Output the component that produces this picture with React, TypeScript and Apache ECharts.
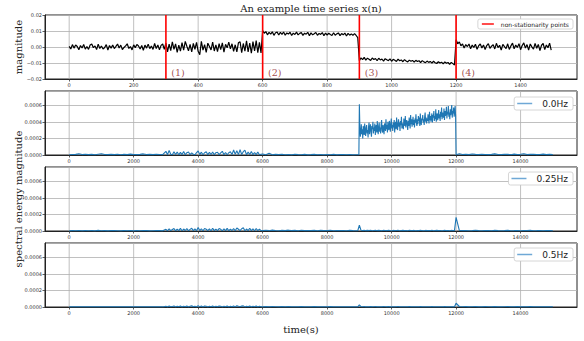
import React, { useEffect, useRef } from "react";
import * as echarts from "echarts";

// ---- top panel: x(n), values in units of 1e-3, one value every 5 samples ----
const XN_STEP = 5;
const xnPart1 = [
  0.4, -1.2, 1.5, -0.7, 1.3, 0.3, -1.7, 0.9, -0.6, 1.6,
  -1.3, 0.3, -1.5, 1.2, 1.9, -0.4, 0.7, -1.6, 1.8, -0.9,
  0.6, -1.3, -0.3, 1.5, -1.9, 0.9, -0.7, 1.3, -1.0, 0.4,
  1.9, -0.6, 1.2, -1.6, -0.3, 0.7, 2.0, -0.9, 0.3, -1.8,
  1.3, -0.4, 1.6, 0.6, -1.3, 0.9, -2.0, 1.2, -0.7, 1.8,
  -1.0, 0.6, -1.5, 2.2, -0.9, 1.3, -1.8, 1.0, 1.9, -1.5,
];
const xnPart2 = [
  2.5, -3.0, 1.8, -2.2, 3.2, -1.5, 2.0, -3.4, 1.2, -2.6,
  2.8, -1.9, 3.5, 0.5, -2.4, 1.6, -3.1, 2.2, -1.4, 2.9,
  -2.7, -4.8, 3.6, -2.0, 1.5, -3.3, 2.4, 0.3, -1.8, 3.0,
  -2.5, 1.3, -2.9, 2.1, -1.6, 2.6, -3.2, 1.7, -0.5, 3.1,
  -1.2, 2.0, -2.8, 1.4, -3.0, 2.7, 3.3, -3.6, 2.2, -2.6,
  3.8, -3.0, 2.5, -3.9, 3.4, -2.4, 4.0, -3.5, 2.9, -3.7,
];
const xnPart3 = [
  10.2, 8.6, 9.6, 7.6, 9.2, 8.0, 9.5, 7.3, 8.9, 9.3,
  7.5, 9.1, 7.9, 9.4, 7.4, 8.8, 8.1, 9.2, 7.2, 8.7,
  7.8, 9.3, 7.6, 8.5, 9.0, 7.3, 8.6, 8.0, 9.2, 7.1,
  8.8, 7.6, 8.3, 9.1, 7.3, 8.5, 7.9, 9.0, 7.0, 8.7,
  7.5, 8.6, 7.8, 7.2, 8.9, 7.4, 8.2, 8.8, 7.1, 8.4,
  7.6, 8.7, 6.9, 8.5, 7.4, 8.2, 7.3, 8.4, 7.2, 5.8,
];
const xnPart4 = [
  -8.5, -6.8, -7.9, -6.5, -8.2, -7.0, -7.6, -8.4, -6.9, -7.8,
  -7.2, -8.6, -7.0, -8.1, -7.5, -8.8, -7.3, -8.0, -8.5, -7.4,
  -8.9, -7.7, -8.3, -9.0, -7.6, -8.6, -8.1, -9.2, -7.9, -8.7,
  -9.3, -8.2, -8.9, -8.4, -9.5, -8.3, -9.1, -8.6, -9.7, -8.5,
  -9.3, -9.8, -8.8, -9.6, -9.0, -10.1, -8.9, -9.8, -10.3, -9.2,
  -10.0, -9.5, -10.6, -9.3, -10.2, -9.7, -10.8, -9.6, -10.4, -11.2,
];
const xnPart5 = [
  4.5, 2.0, 3.2, 0.8, 1.9, -0.7, 1.5, 0.3, 1.9, -1.1,
  1.2, -0.3, 1.7, -1.4, 0.8, 1.9, -0.6, 1.3, -1.6, 0.9,
  2.1, -0.8, 0.5, 1.5, -1.2, 2.3, -0.4, 1.1, -1.9, 1.6,
  0.3, -1.0, 2.0, -1.5, 0.7, 2.4, -1.1, 1.2, -0.3, 2.1,
  -1.7, 0.9, 2.6, -0.7, 1.5, -2.0, 1.9, 0.1, -1.3, 2.3,
  -0.8, 1.6, -2.3, 1.1, 2.2, -1.6, 1.3, -0.5, 2.4, -1.9,
];
const XN_UNIT = 1e-3;

const changePoints = [300, 600, 900, 1200];
const changeLabels = ["(1)", "(2)", "(3)", "(4)"];

const topXTicks = [0, 200, 400, 600, 800, 1000, 1200, 1400];
const specXTicks = [0, 2000, 4000, 6000, 8000, 10000, 12000, 14000];

// ---- spectral panels: values in units of 1e-5 ----
type Seg = { start: number; step: number; values: number[] };
const SPEC_UNIT = 1e-5;

const spec00: Seg[] = [
  { start: 0, step: 100, values: [
    0.3, 0.6, 0.8, 1.4, 0.5, 0.9, 0.4, 0.7, 0.3, 1.0,
    1.6, 0.6, 0.4, 0.8, 0.5, 0.9, 0.3, 0.7, 0.5, 1.1,
    0.6, 0.4, 0.8, 1.3, 0.5, 0.7, 0.4, 0.9, 0.6, 0.5] },
  { start: 3000, step: 50, values: [
    4.5, 0.4, 5.5, 1.0, 0.3, 4.0, 0.6, 3.5, 0.2, 3.2,
    0.5, 4.2, 0.3, 2.8, 3.6, 0.4, 2.6, 0.8, 0.3, 2.9,
    4.8, 0.5, 3.4, 0.3, 2.7, 3.9, 0.4, 3.1, 0.6, 3.6,
    0.3, 2.8, 3.3, 0.5, 2.5, 4.4, 0.4, 3.0, 0.3, 2.7,
    3.8, 0.5, 6.0, 0.8, 5.2, 0.4, 6.5, 0.6, 4.0, 5.8,
    0.3, 3.5, 0.7, 4.1, 0.4, 3.0, 0.5, 3.6, 0.3, 0.8] },
  { start: 6000, step: 100, values: [
    1.2, 0.3, 2.0, 0.2, 0.8, 0.4, 1.0, 0.3, 0.6, 0.2,
    0.9, 0.4, 0.3, 0.7, 0.2, 0.4, 0.8, 0.3, 0.5, 0.2,
    0.4, 0.3, 0.7, 0.2, 0.4, 0.6, 0.3, 0.5, 0.2, 0.3] },
  { start: 8985, step: 15, values: [
    0.3, 61,
    34, 22, 27, 37, 25, 31, 20, 35, 29, 24,
    38, 27, 23, 33, 36, 26, 30, 21, 34, 39,
    25, 32, 37, 28, 22, 35, 31, 40, 26, 33,
    29, 38, 24, 34, 36, 27, 41, 30, 25, 35,
    39, 28, 33, 26, 37, 42, 30, 27, 36, 31,
    25, 38, 34, 29, 43, 31, 36, 27, 40, 33,
    30, 41, 35, 28, 38, 44, 32, 36, 29, 39,
    33, 42, 27, 37, 40, 31, 45, 35, 30, 38,
    43, 34, 39, 29, 41, 36, 46, 32, 38, 35,
    31, 44, 38, 35, 47, 33, 40, 42, 36, 30,
    41, 35, 45, 39, 32, 48, 37, 43, 34, 40,
    46, 36, 42, 33, 44, 39, 49, 38, 35, 43,
    37, 47, 41, 45, 35, 50, 40, 36, 44, 42,
    48, 39, 43, 36, 46, 51, 40, 45, 38, 44,
    41, 49, 44, 38, 52, 42, 47, 40, 46, 50,
    39, 48, 45, 53, 41, 47, 43, 55, 40, 46,
    50, 42, 47, 54, 44, 49, 41, 52, 46, 57,
    43, 51, 48, 45, 56, 42, 53, 47, 50, 58,
    44, 52, 49, 59, 46, 51, 43, 55, 48, 54,
    60, 45, 53, 50, 57, 46, 52, 59, 47] },
  { start: 12000, step: 100, values: [
    0.4, 1.5, 0.6, 0.8, 0.5, 1.2, 0.7, 0.4, 0.9, 0.6,
    0.5, 0.8, 1.4, 0.6, 0.5, 0.9, 0.7, 0.4, 1.1, 0.6,
    0.8, 1.6, 0.5, 0.7, 0.9, 0.4, 0.6, 1.0, 0.5, 0.7,
    0.4] },
];

const spec025: Seg[] = [
  { start: 0, step: 100, values: [
    0.2, 0.4, 0.3, 0.6, 0.2, 0.5, 0.3, 0.4, 0.2, 0.7,
    0.3, 0.5, 0.2, 0.4, 0.6, 0.3, 0.2, 0.5, 0.3, 0.4,
    0.2, 0.6, 0.3, 0.4, 0.5, 0.2, 0.3, 0.6, 0.4, 0.2] },
  { start: 3000, step: 50, values: [
    2.0, 0.3, 2.6, 0.4, 1.8, 2.9, 0.3, 2.2, 0.5, 3.1,
    0.3, 2.4, 0.6, 2.8, 0.3, 2.0, 3.3, 0.4, 2.5, 0.3,
    4.2, 0.5, 2.7, 0.3, 3.0, 2.1, 0.4, 2.6, 0.3, 3.4,
    0.4, 2.3, 0.5, 2.9, 2.0, 0.3, 2.5, 0.4, 3.2, 0.3,
    2.2, 0.6, 2.8, 0.3, 3.6, 2.1, 0.4, 2.7, 3.8, 0.3,
    2.4, 0.5, 3.3, 0.4, 2.6, 0.3, 3.0, 0.5, 2.2, 0.4] },
  { start: 6000, step: 100, values: [
    0.5, 0.9, 0.4, 1.1, 0.6, 0.3, 0.8, 0.5, 1.0, 0.4,
    0.7, 0.3, 0.9, 0.5, 0.6, 0.4, 0.8, 0.3, 0.7, 0.5,
    0.4, 0.9, 0.3, 0.6, 0.4, 0.5, 0.3, 0.7, 0.4, 0.3] },
  { start: 8950, step: 50, values: [
    0.3, 7.0, 0.9, 0.5, 0.8, 0.4, 0.7, 0.5, 0.9, 0.3,
    0.6, 0.8, 0.4, 0.7, 0.5, 0.3, 0.8, 0.6, 0.4, 0.9,
    0.5, 0.3, 0.7, 0.4, 0.6, 0.8, 0.3, 0.5, 0.7, 0.4,
    0.6, 0.3, 0.8, 0.5, 0.4, 0.7, 0.3, 0.6, 0.5, 0.9,
    0.4, 0.3, 0.7, 0.5, 0.6, 0.4, 0.8, 0.3, 0.5, 0.7,
    0.4, 0.6, 0.3, 0.5, 0.8, 0.4, 0.6, 0.3, 0.7, 0.5,
    0.4] },
  { start: 12000, step: 100, values: [
    16.5, 0.8, 0.4, 0.6, 0.3, 0.5, 0.9, 0.4, 0.3, 0.6,
    0.5, 0.3, 0.7, 0.4, 0.3, 0.5, 0.8, 0.3, 0.4, 0.6,
    0.3, 0.5, 0.4, 0.7, 0.3, 0.4, 0.6, 0.3, 0.5, 0.4,
    0.2] },
];

const spec05: Seg[] = [
  { start: 0, step: 100, values: [
    0.1, 0.2, 0.1, 0.3, 0.1, 0.2, 0.1, 0.2, 0.1, 0.3,
    0.1, 0.2, 0.1, 0.2, 0.3, 0.1, 0.1, 0.2, 0.1, 0.2,
    0.1, 0.3, 0.1, 0.2, 0.2, 0.1, 0.1, 0.3, 0.2, 0.1] },
  { start: 3000, step: 50, values: [
    0.8, 0.1, 1.1, 0.2, 0.7, 1.2, 0.1, 0.9, 0.2, 1.3,
    0.1, 1.0, 0.2, 1.2, 0.1, 0.8, 1.4, 0.2, 1.0, 0.1,
    1.6, 0.2, 1.1, 0.1, 1.2, 0.8, 0.1, 1.0, 0.2, 1.3,
    0.1, 0.9, 0.2, 1.2, 0.8, 0.1, 1.0, 0.2, 1.3, 0.1,
    0.9, 0.2, 1.1, 0.1, 1.5, 0.8, 0.2, 1.1, 1.4, 0.1,
    0.9, 0.2, 1.3, 0.1, 1.0, 0.2, 1.2, 0.1, 0.9, 0.2] },
  { start: 6000, step: 100, values: [
    0.2, 0.4, 0.2, 0.5, 0.3, 0.1, 0.4, 0.2, 0.5, 0.2,
    0.3, 0.1, 0.4, 0.2, 0.3, 0.2, 0.4, 0.1, 0.3, 0.2,
    0.2, 0.4, 0.1, 0.3, 0.2, 0.2, 0.1, 0.3, 0.2, 0.1] },
  { start: 8950, step: 50, values: [
    0.2, 2.5, 0.5, 0.3, 0.4, 0.2, 0.3, 0.2, 0.4, 0.1,
    0.3, 0.4, 0.2, 0.3, 0.2, 0.1, 0.4, 0.3, 0.2, 0.4,
    0.2, 0.1, 0.3, 0.2, 0.3, 0.4, 0.1, 0.2, 0.3, 0.2,
    0.3, 0.1, 0.4, 0.2, 0.2, 0.3, 0.1, 0.3, 0.2, 0.4,
    0.2, 0.1, 0.3, 0.2, 0.3, 0.2, 0.4, 0.1, 0.2, 0.3,
    0.2, 0.3, 0.1, 0.2, 0.4, 0.2, 0.3, 0.1, 0.3, 0.2,
    0.2] },
  { start: 12000, step: 100, values: [
    4.5, 0.6, 0.3, 0.4, 0.2, 0.3, 0.5, 0.2, 0.2, 0.4,
    0.3, 0.2, 0.4, 0.2, 0.2, 0.3, 0.5, 0.2, 0.2, 0.4,
    0.2, 0.3, 0.2, 0.4, 0.2, 0.2, 0.3, 0.2, 0.3, 0.2,
    0.1] },
];

const specNames = ["0.0Hz", "0.25Hz", "0.5Hz"];
const specData = [spec00, spec025, spec05];

// ---- layout ----
const GRID_LEFT = 45;
const GRID_W = 532;
const GRID_H = 64;
const gridTops = [15, 91, 167, 243];
const TOP_X = [-75, 1575];
const TOP_Y = [-0.02, 0.02];
const SPEC_X = [-750, 15750];
const SPEC_Y = [0, 0.00077];

const SANS = "DejaVu Sans";
const SERIF = "DejaVu Serif";
const BLUE = "#1f77b4";

function segPoints(segs: Seg[], unit: number) {
  const out: number[][] = [];
  segs.forEach((s) => s.values.forEach((v, i) => out.push([s.start + i * s.step, v * unit])));
  return out;
}

export default function App() {
  const ref = useRef<HTMLDivElement>(null);
  useEffect(() => {
    if (!ref.current) return;
    const chart = echarts.init(ref.current, undefined, { renderer: "svg" });

    const xnAll = [...xnPart1, ...xnPart2, ...xnPart3, ...xnPart4, ...xnPart5];
    const xnData = xnAll.map((v, i) => [i * XN_STEP, v * XN_UNIT]);

    const grids = gridTops.map((t) => ({
      left: GRID_LEFT, top: t, width: GRID_W, height: GRID_H,
      show: true, borderColor: "#222", borderWidth: 1, backgroundColor: "transparent",
    }));

    const mkX = (g: number, ext: number[], ticks: number[]) => ({
      gridIndex: g, type: "value", min: ext[0], max: ext[1],
      axisLine: { show: true, onZero: false, lineStyle: { color: "#222", width: 1 } },
      splitLine: { show: false },
      axisTick: { show: true, customValues: ticks, length: 2.5, lineStyle: { color: "#333", width: 0.8 } },
      axisLabel: { customValues: ticks, fontSize: 5, color: "#333", margin: 3, fontFamily: SANS, formatter: (v: number) => String(v) },
    });
    const xAxes = [mkX(0, TOP_X, topXTicks), mkX(1, SPEC_X, specXTicks), mkX(2, SPEC_X, specXTicks), mkX(3, SPEC_X, specXTicks)];

    const yBase = {
      type: "value",
      axisLine: { show: true, onZero: false, lineStyle: { color: "#222", width: 1 } },
      axisTick: { show: true, length: 2.5, lineStyle: { color: "#333", width: 0.8 } },
      splitLine: { show: true, lineStyle: { color: "#b0b0b0", width: 0.8 } },
    };
    const yAxes: any[] = [
      {
        ...yBase, gridIndex: 0, min: TOP_Y[0], max: TOP_Y[1], interval: 0.01,
        axisLabel: {
          fontSize: 5, color: "#333", margin: 3, fontFamily: SANS,
          formatter: (v: number) => (v < -1e-9 ? "\u2212" : "") + Math.abs(v).toFixed(2),
        },
      },
    ];
    for (let g = 1; g <= 3; g++) {
      yAxes.push({
        ...yBase, gridIndex: g, min: SPEC_Y[0], max: SPEC_Y[1], interval: 0.0002,
        axisLabel: {
          fontSize: 5, color: "#333", margin: 3, fontFamily: SANS, showMaxLabel: false,
          formatter: (v: number) => v.toFixed(4),
        },
      });
    }

    const series: any[] = [];
    const vGrid = (g: number, ticks: number[], ext: number[]) =>
      ticks.forEach((t) =>
        series.push({
          type: "line", xAxisIndex: g, yAxisIndex: g, data: [[t, ext[0]], [t, ext[1]]],
          showSymbol: false, silent: true, z: 1,
          lineStyle: { color: "#b0b0b0", width: 0.8 },
        })
      );
    vGrid(0, topXTicks, TOP_Y);
    for (let g = 1; g <= 3; g++) vGrid(g, specXTicks, SPEC_Y);

    series.push({
      type: "line", name: "x(n)", xAxisIndex: 0, yAxisIndex: 0, data: xnData,
      showSymbol: false, silent: true, z: 3,
      lineStyle: { color: "#000", width: 1.2 }, itemStyle: { color: "#000" },
    });
    changePoints.forEach((cp) =>
      series.push({
        type: "line", name: "non-stationarity points", xAxisIndex: 0, yAxisIndex: 0,
        data: [[cp, TOP_Y[0]], [cp, TOP_Y[1]]],
        showSymbol: false, silent: true, z: 4,
        lineStyle: { color: "#ff0000", width: 1.6 }, itemStyle: { color: "#ff0000" },
      })
    );
    series.push({
      type: "scatter", name: "labels", xAxisIndex: 0, yAxisIndex: 0, symbolSize: 1, silent: true, z: 5,
      itemStyle: { color: "rgba(0,0,0,0)" },
      data: changePoints.map((cp, i) => ({ name: changeLabels[i], value: [cp + 15, -0.0162] })),
      label: { show: true, position: "right", distance: 0, formatter: "{b}", color: "#8b1a1a", fontFamily: SERIF, fontSize: 9.5 },
    });
    specData.forEach((segs, k) =>
      series.push({
        type: "line", name: specNames[k], xAxisIndex: k + 1, yAxisIndex: k + 1,
        data: segPoints(segs, SPEC_UNIT), showSymbol: false, silent: true, z: 3,
        lineStyle: { color: BLUE, width: 1.1 }, itemStyle: { color: BLUE },
      })
    );

    const legendCommon = {
      backgroundColor: "#fff", borderColor: "#cccccc", borderWidth: 0.8, borderRadius: 2,
      selectedMode: false, orient: "horizontal",
    };
    const legends: any[] = [
      {
        ...legendCommon, right: 11, top: 19, itemWidth: 12, itemHeight: 1.4, padding: [2, 4, 2, 4],
        data: [{ name: "non-stationarity points", icon: "rect", itemStyle: { color: "#ff0000" } }],
        textStyle: { fontFamily: SANS, fontSize: 6, color: "#222", padding: [0, 0, 0, 2] },
      },
    ];
    const legendTops = [97, 172, 248];
    specNames.forEach((n, k) =>
      legends.push({
        ...legendCommon, right: 11, top: legendTops[k], itemWidth: 15, itemHeight: 1.5, padding: [2, 5, 2, 3],
        data: [{ name: n, icon: "rect", itemStyle: { color: "#6fa8d6" } }],
        textStyle: { fontFamily: SANS, fontSize: 9, color: "#222", padding: [0, 0, 0, 5] },
      })
    );

    const txt = (text: string, x: number, y: number, rot = 0) => ({
      type: "text", x, y, rotation: rot, silent: true,
      style: { text, fontFamily: SERIF, fontSize: 10, fill: "#222", align: "center", verticalAlign: "middle" },
    });

    chart.setOption({
      animation: false,
      backgroundColor: "#fff",
      grid: grids,
      xAxis: xAxes,
      yAxis: yAxes,
      legend: legends,
      series,
      graphic: [
        txt("An example time series x(n)", 311, 8),
        txt("magnitude", 18, 47, Math.PI / 2),
        txt("spectral energy magnitude", 18, 199, Math.PI / 2),
        txt("time(s)", 301, 329),
      ],
    });
    return () => chart.dispose();
  }, []);

  return <div ref={ref} style={{ position: "fixed", left: 0, top: 0, width: 584, height: 341 }} />;
}
